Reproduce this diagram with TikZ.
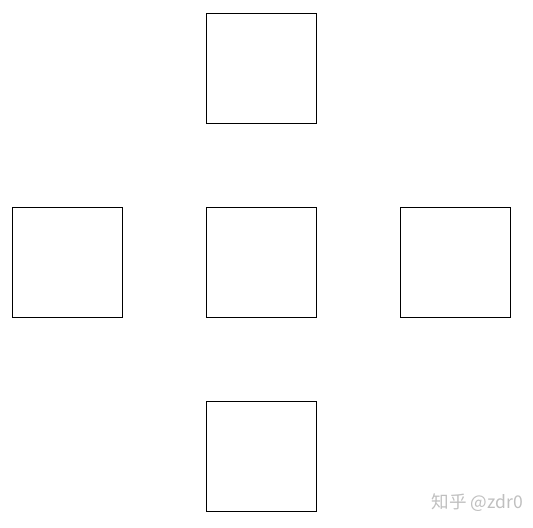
\documentclass[tikz,border=0pt]{standalone}
\usepackage{fontspec}
\newfontfamily\cjk{Noto Sans CJK SC}
\usetikzlibrary{positioning}

\begin{document}
\begin{tikzpicture}[box/.style={draw,rectangle,minimum size=2.2cm,inner sep=0pt,line width=0.5pt}]
    \useasboundingbox (0,0) rectangle (10.66,-10.54);
    \node[box] (c) at (5.22,-5.24) {};
    \node[box] (t) at (5.22,-1.36) {};
    \node[box] (b) at (5.22,-9.12) {};
    \node[box] (l) at (1.34,-5.24) {};
    \node[box] (r) at (9.10,-5.24) {};
    
    \node[text=black!25,font=\cjk\fontsize{10}{12}\selectfont] (mark) at (9.55,-10.06) {知乎 @zdr0};
\end{tikzpicture}
\end{document}
